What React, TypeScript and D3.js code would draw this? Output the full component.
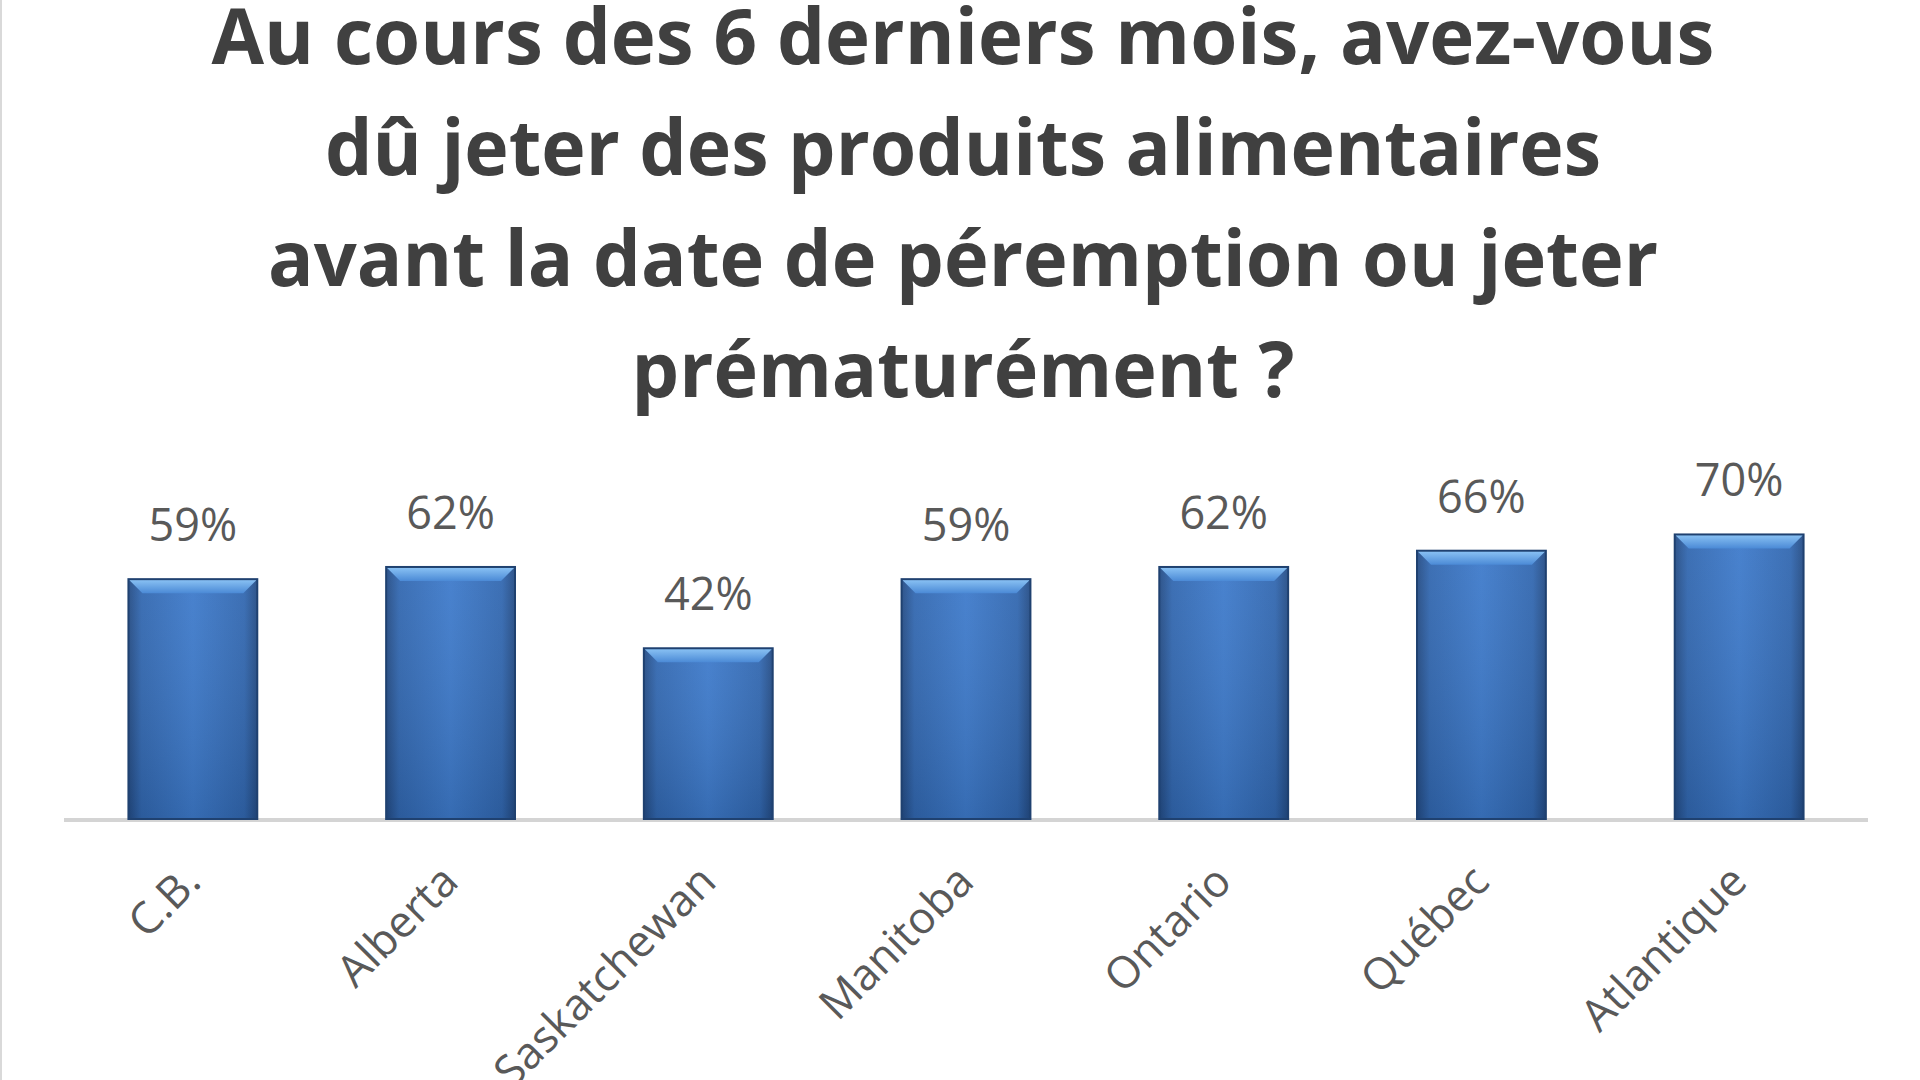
import React from "react";
import * as d3 from "d3";

const categories = ["C.B.", "Alberta", "Saskatchewan", "Manitoba", "Ontario", "Québec", "Atlantique"];
const values = [59, 62, 42, 59, 62, 66, 70];
const titleLines = [
  "Au cours des 6 derniers mois, avez-vous",
  "dû jeter des produits alimentaires",
  "avant la date de péremption ou jeter",
  "prématurément ?",
];
const titleWidths = [1503, 1276, 1390, 663];

const W = 1920;
const H = 1080;

export default function App() {
  const x = d3.scaleBand<string>().domain(categories).range([64, 1868]).paddingInner(0.5).paddingOuter(0.25);
  const y = d3.scaleLinear().domain([0, 100]).range([819, 412.5]);
  const bw = x.bandwidth();
  const bevel = 14;

  return (
    <svg width={W} height={H} style={{ position: "absolute", left: 0, top: 0, background: "#fff" }}>
      <defs>
        <linearGradient id="barH" x1="0" x2="1" y1="0" y2="0">
          <stop offset="0" stopColor="#234b84" />
          <stop offset="0.1" stopColor="#3167b0" />
          <stop offset="0.5" stopColor="#3d7acb" />
          <stop offset="0.9" stopColor="#3167b0" />
          <stop offset="1" stopColor="#234b84" />
        </linearGradient>
        <linearGradient id="barV" x1="0" x2="0" y1="0" y2="1">
          <stop offset="0" stopColor="#ffffff" stopOpacity="0.06" />
          <stop offset="1" stopColor="#000000" stopOpacity="0.12" />
        </linearGradient>
        <linearGradient id="bevelTop" x1="0" x2="0" y1="0" y2="1">
          <stop offset="0" stopColor="#8cc4f5" />
          <stop offset="1" stopColor="#4b8ad6" />
        </linearGradient>
      </defs>
      <rect x={0} y={0} width={W} height={H} fill="#fff" />
      <line x1={1} x2={1} y1={0} y2={H} stroke="#d9d9d9" strokeWidth={2} />

      <g fontFamily="'Open Sans', sans-serif" fontWeight={700} fill="#404040" fontSize={77} textAnchor="middle">
        {titleLines.map((t, i) => (
          <text key={i} x={963} y={64 + i * 111} textLength={titleWidths[i]} lengthAdjust="spacingAndGlyphs">
            {t}
          </text>
        ))}
      </g>

      <line x1={64} x2={1868} y1={y(0) + 1} y2={y(0) + 1} stroke="#d4d4d4" strokeWidth={4} />

      {categories.map((c, i) => {
        const x0 = x(c)!;
        const top = y(values[i]);
        const h = y(0) - top;
        return (
          <g key={c}>
            <rect x={x0} y={top} width={bw} height={h} fill="url(#barH)" />
            <rect x={x0} y={top} width={bw} height={h} fill="url(#barV)" />
            <polygon
              points={`${x0},${top} ${x0 + bw},${top} ${x0 + bw - bevel},${top + bevel} ${x0 + bevel},${top + bevel}`}
              fill="url(#bevelTop)"
            />
            <rect x={x0} y={top} width={bw} height={h} fill="none" stroke="#1f4170" strokeWidth={2} />
          </g>
        );
      })}

      <g fontFamily="'Open Sans', sans-serif" fill="#595959" fontSize={45} textAnchor="middle">
        {categories.map((c, i) => (
          <text key={c} x={x(c)! + bw / 2} y={y(values[i]) - 38}>
            {values[i]}%
          </text>
        ))}
      </g>

      <g fontFamily="'Open Sans', sans-serif" fill="#595959" fontSize={44} textAnchor="end">
        {categories.map((c) => {
          const cx = x(c)! + bw / 2 + 10;
          const cy = 884;
          return (
            <text key={c} x={cx} y={cy} transform={`rotate(-45 ${cx} ${cy})`}>
              {c}
            </text>
          );
        })}
      </g>
    </svg>
  );
}
